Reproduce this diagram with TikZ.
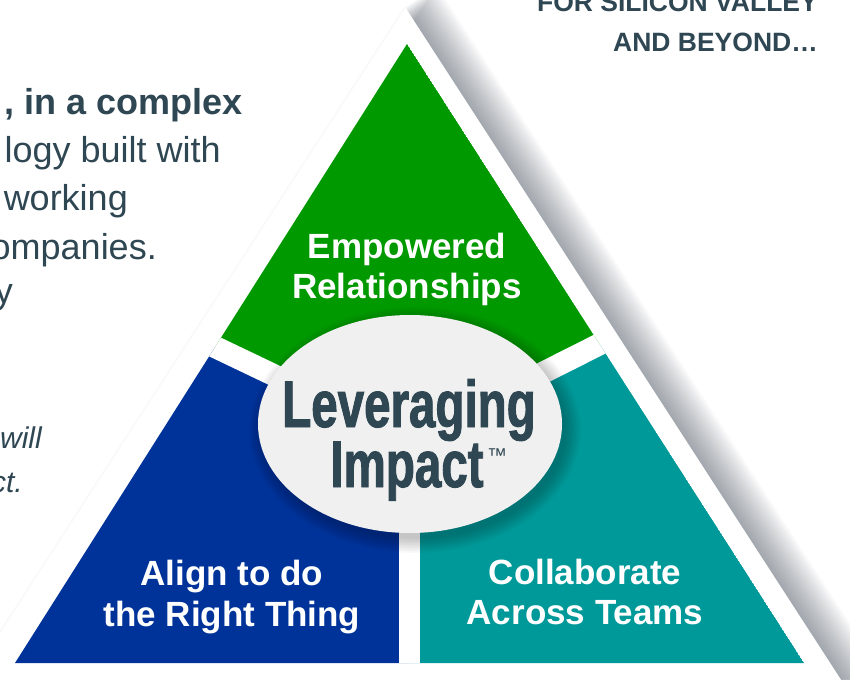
\documentclass[tikz,border=0pt]{standalone}
\usepackage{fontspec}
\setmainfont{Liberation Sans}
\newfontfamily\lifont{Liberation Sans}[BoldFeatures={FakeBold=1.4,FakeStretch=0.72}]
\usetikzlibrary{shapes.geometric,calc}
\definecolor{tgreen}{RGB}{0,153,0}
\definecolor{tblue}{RGB}{0,51,153}
\definecolor{tteal}{RGB}{0,153,153}
\definecolor{slate}{RGB}{47,70,83}
\definecolor{ellfill}{RGB}{240,240,240}
\definecolor{shadowc}{RGB}{70,80,92}
\tikzset{
  lbl/.style={text=white, font=\bfseries\fontsize{35}{35}\selectfont, anchor=base, inner sep=0pt},
  sidetxt/.style={text=slate, font=\fontsize{36}{36}\selectfont, anchor=base east, inner sep=0pt},
  sidebold/.style={sidetxt, font=\bfseries\fontsize{36}{36}\selectfont},
  sideital/.style={sidetxt, font=\itshape\fontsize{30}{30}\selectfont},
  toptxt/.style={text=slate, font=\bfseries\fontsize{26.5}{26.5}\selectfont, anchor=base east, inner sep=0pt},
  bigtxt/.style={text=slate, font=\lifont\bfseries\fontsize{66}{66}\selectfont, anchor=base, inner sep=0pt},
}
\begin{document}
\begin{tikzpicture}[x=1pt,y=-1pt]
\useasboundingbox (0,0) rectangle (850,679);
\fill[white] (0,0) rectangle (850,679);
% outer white triangle with shadow
\foreach \s in {38,36,...,2}{
  \begin{scope}[shift={(0.839*\s,-0.544*\s)}]
    \fill[shadowc, opacity=0.03] (405,7) -- (-83,760) -- (893,760) -- cycle;
  \end{scope}
}
\coordinate (OA) at (405,7);
\coordinate (OL) at (-83,760);
\coordinate (OR) at (893,760);
\fill[white] (OA) -- (OL) -- (OR) -- cycle;
\draw[gray!5, line width=1.5pt] (OA) -- (OL);
% coloured triangle
\coordinate (A) at (407,44);
\coordinate (BL) at (15,663);
\coordinate (BR) at (804,663);
\coordinate (C) at (409.5,440);
\coordinate (LS) at (215,347);
\coordinate (RS) at (600,344);
\coordinate (BM) at (409.5,663);
\begin{scope}
  \clip (A) -- (BL) -- (BR) -- cycle;
  \fill[tgreen] (A) -- (LS) -- (C) -- (RS) -- cycle;
  \fill[tblue] (LS) -- (BL) -- (BM) -- (C) -- cycle;
  \fill[tteal] (RS) -- (BR) -- (BM) -- (C) -- cycle;
  \draw[white, line width=22pt] (C) -- ($(C)!1.3!(LS)$);
  \draw[white, line width=22pt] (C) -- ($(C)!1.3!(RS)$);
  \draw[white, line width=21pt] (C) -- ($(BM)+(0,30)$);
\end{scope}
% ellipse shadow
\foreach \i in {1,...,10}{
  \fill[black, opacity=0.022] (415,430) ellipse [x radius=150+1.6*\i, y radius=107+1.6*\i];
}
\node[ellipse, fill=ellfill, minimum width=304pt, minimum height=218pt, inner sep=0pt] (hub) at (410,424) {};
\node[bigtxt] (lev) at (409,427) {Leveraging};
\node[bigtxt] (imp) at (407,487) {Impact};
\node[text=slate, font=\fontsize{20}{20}\selectfont, anchor=base west, inner sep=0pt] (tm) at (487,462) {™};
% segment labels
\node[lbl] (emp1) at (407,258) {Empowered};
\node[lbl] (emp2) at (407,298) {Relationships};
\node[lbl] (ali1) at (232,585) {Align to do};
\node[lbl] (ali2) at (232,626) {the Right Thing};
\node[lbl] (col1) at (585,584) {Collaborate};
\node[lbl] (col2) at (585,624) {Across Teams};
% side text
\node[sidebold] (s1) at (243,115) {, in a complex};
\node[sidetxt] (s2) at (221,162) {logy built with};
\node[sidetxt] (s3) at (128,210) {working};
\node[sidetxt] (s4) at (157,259) {ompanies.};
\node[sidetxt] (s5) at (13,303) {y};
\node[sideital] (s6) at (42,448) {will};
\node[sideital] (s7) at (23,492) {ct.};
% top right text
\node[toptxt] (t1) at (818,12) {FOR SILICON VALLEY};
\node[toptxt] (t2) at (818,52) {AND BEYOND…};
\end{tikzpicture}
\end{document}
